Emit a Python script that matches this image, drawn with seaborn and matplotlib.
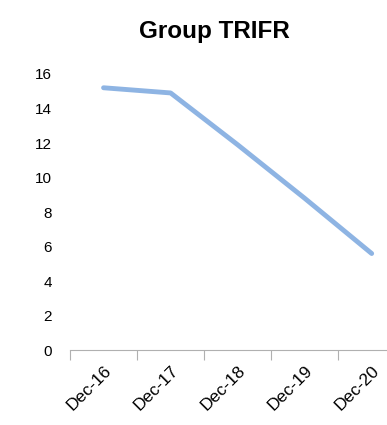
import seaborn as sns
import pandas as pd
import matplotlib.pyplot as plt
from matplotlib.ticker import FixedLocator

sns.set_style('white')
plt.rcParams['font.family'] = ['Liberation Sans', 'DejaVu Sans']
plt.rcParams['text.color'] = 'black'
plt.rcParams['xtick.color'] = 'black'
plt.rcParams['ytick.color'] = 'black'

periods = ['Dec-16', 'Dec-17', 'Dec-18', 'Dec-19', 'Dec-20']
trifr = [15.2, 14.9, 11.9, 8.8, 5.6]
yticks = [0, 2, 4, 6, 8, 10, 12, 14, 16]

df = pd.DataFrame({'period': periods, 'trifr': trifr})

fig = plt.figure(figsize=(3.87, 4.25), dpi=100)
ax = fig.add_axes([0.181, 0.176, 0.866, 0.65])

sns.lineplot(data=df, x='period', y='trifr', ax=ax, color='#8EB4E3',
             linewidth=3.5, solid_capstyle='round', clip_on=False)

ax.set_xlim(-0.5, 4.5)
ax.set_ylim(0, 16)
ax.set_yticks(yticks)
ax.set_xlabel('')
ax.set_ylabel('')

for side in ['top', 'right', 'left']:
    ax.spines[side].set_visible(False)
ax.spines['bottom'].set_color('#B0B0B0')
ax.spines['bottom'].set_linestyle((0, (2, 1)))
ax.spines['bottom'].set_linewidth(0.8)

ax.xaxis.set_minor_locator(FixedLocator([i - 0.5 for i in range(len(periods) + 1)]))
ax.tick_params(axis='x', which='minor', length=7, width=0.8, color='#B0B0B0', bottom=True)
ax.tick_params(axis='x', which='major', length=0, pad=9, labelsize=12.5)
ax.tick_params(axis='y', length=0, pad=13, labelsize=11)
plt.setp(ax.get_xticklabels(), rotation=45, ha='right', rotation_mode='anchor')

fig.text(0.553, 0.925, 'Group TRIFR', ha='center', va='center',
         fontsize=17.5, fontweight='bold')

fig.savefig('out.png', dpi=100)
